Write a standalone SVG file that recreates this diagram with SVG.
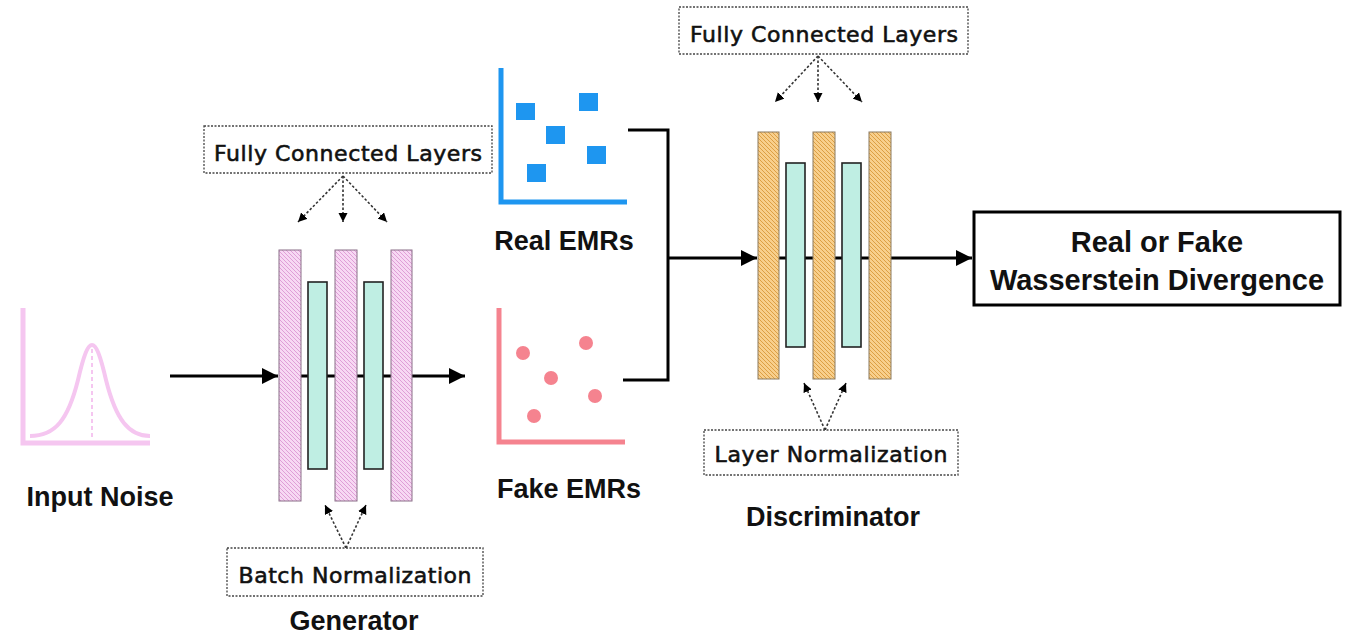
<svg xmlns="http://www.w3.org/2000/svg" width="1351" height="636" viewBox="0 0 1351 636">
<style>
.lbl{font-family:"DejaVu Sans",sans-serif;font-size:22px;fill:#111;stroke:#111;stroke-width:0.6;text-anchor:middle}
.big{font-family:"Liberation Sans",Arial,sans-serif;font-size:27px;font-weight:bold;fill:#111;text-anchor:middle}
.res{font-family:"Liberation Sans",Arial,sans-serif;font-size:29px;font-weight:bold;fill:#111;text-anchor:middle}
.dbox{fill:#fff;stroke:#444;stroke-width:1.3;stroke-dasharray:2,1.5}
.dot{fill:none;stroke:#333;stroke-width:1.6;stroke-dasharray:2.5,2}
.main{fill:none;stroke:#000;stroke-width:3}
.pbar{fill:url(#hpink);stroke:#8a6f88;stroke-width:1}
.obar{fill:url(#horange);stroke:#8a7a60;stroke-width:1}
.tbar{fill:#bfeee3;stroke:#222;stroke-width:1.6}
</style>
<defs>
<pattern id="hpink" patternUnits="userSpaceOnUse" width="4" height="4">
<rect width="4" height="4" fill="#f7d8f3"/>
<path d="M-1,-1 L5,5 M-1,3 L1,5 M3,-1 L5,1" stroke="#dc98d4" stroke-width="0.9"/>
</pattern>
<pattern id="horange" patternUnits="userSpaceOnUse" width="4" height="4">
<rect width="4" height="4" fill="#f8cf8c"/>
<path d="M-1,-1 L5,5 M-1,3 L1,5 M3,-1 L5,1" stroke="#d99a3c" stroke-width="0.9"/>
</pattern>
<marker id="ah" markerUnits="userSpaceOnUse" markerWidth="17" markerHeight="17" refX="16" refY="8" orient="auto">
<path d="M0,0 L16,8 L0,16 z" fill="#000"/>
</marker>
<marker id="sh" markerUnits="userSpaceOnUse" markerWidth="10" markerHeight="10" refX="9" refY="4.5" orient="auto">
<path d="M0,0 L9,4.5 L0,9 z" fill="#000"/>
</marker>
</defs>

<g id="connectors">
<line class="main" x1="170" y1="376" x2="278" y2="376" marker-end="url(#ah)"/>
<line class="main" x1="279" y1="376" x2="412" y2="376"/>
<line class="main" x1="412" y1="376" x2="465" y2="376" marker-end="url(#ah)"/>
<polyline class="main" points="628,130 668,130 668,380 623,380"/>
<line class="main" x1="668" y1="258" x2="757" y2="258" marker-end="url(#ah)"/>
<line class="main" x1="758" y1="258" x2="891" y2="258"/>
<line class="main" x1="891" y1="258" x2="972" y2="258" marker-end="url(#ah)"/>
<line class="dot" x1="343" y1="176" x2="298" y2="222" marker-end="url(#sh)"/>
<line class="dot" x1="343" y1="176" x2="343" y2="222" marker-end="url(#sh)"/>
<line class="dot" x1="343" y1="176" x2="387" y2="222" marker-end="url(#sh)"/>
<line class="dot" x1="346" y1="548" x2="325" y2="505" marker-end="url(#sh)"/>
<line class="dot" x1="346" y1="548" x2="366" y2="505" marker-end="url(#sh)"/>
<line class="dot" x1="818" y1="56" x2="775" y2="102" marker-end="url(#sh)"/>
<line class="dot" x1="818" y1="56" x2="818" y2="102" marker-end="url(#sh)"/>
<line class="dot" x1="818" y1="56" x2="862" y2="102" marker-end="url(#sh)"/>
<line class="dot" x1="825" y1="430" x2="804" y2="383" marker-end="url(#sh)"/>
<line class="dot" x1="825" y1="430" x2="846" y2="383" marker-end="url(#sh)"/>
</g>

<g id="input-noise">
<path d="M23,308 L23,443 L150,443" fill="none" stroke="#f5c6f0" stroke-width="5"/>
<path d="M30,436 C55,436 68,420 78,380 C84,354 88,345 92,345 C96,345 100,354 106,380 C116,420 129,436 150,436" fill="none" stroke="#f5c6f0" stroke-width="4"/>
<line x1="92" y1="349" x2="92" y2="440" stroke="#f5c6f0" stroke-width="2" stroke-dasharray="4,3"/>
<text class="big" x="100" y="506">Input Noise</text>
</g>

<g id="generator">
<rect class="pbar" x="279" y="250" width="22" height="251"/>
<rect class="pbar" x="335" y="250" width="22" height="251"/>
<rect class="pbar" x="391" y="250" width="21" height="251"/>
<rect class="tbar" x="308" y="282" width="19" height="187"/>
<rect class="tbar" x="364" y="282" width="19" height="187"/>
<text class="big" x="354" y="630">Generator</text>
</g>

<g id="gen-fc-label">
<rect class="dbox" x="204" y="126" width="288" height="47"/>
<text class="lbl" x="348" y="161" textLength="268" lengthAdjust="spacing">Fully Connected Layers</text>
</g>

<g id="gen-bn-label">
<rect class="dbox" x="227" y="548" width="256" height="48"/>
<text class="lbl" x="355" y="583" textLength="233" lengthAdjust="spacing">Batch Normalization</text>
</g>

<g id="real-emrs">
<path d="M501,68 L501,202 L627,202" fill="none" stroke="#1e96f0" stroke-width="5"/>
<rect x="516" y="103" width="19" height="17" fill="#1e96f0"/>
<rect x="579" y="93" width="19" height="18" fill="#1e96f0"/>
<rect x="546" y="126" width="19" height="18" fill="#1e96f0"/>
<rect x="587" y="146" width="19" height="18" fill="#1e96f0"/>
<rect x="527" y="164" width="19" height="18" fill="#1e96f0"/>
<text class="big" x="564" y="250">Real EMRs</text>
</g>

<g id="fake-emrs">
<path d="M499,308 L499,442 L625,442" fill="none" stroke="#f5838f" stroke-width="5"/>
<circle cx="523" cy="353" r="7" fill="#f5838f"/>
<circle cx="586" cy="343" r="7" fill="#f5838f"/>
<circle cx="551" cy="378" r="7" fill="#f5838f"/>
<circle cx="595" cy="396" r="7" fill="#f5838f"/>
<circle cx="534" cy="416" r="7" fill="#f5838f"/>
<text class="big" x="569" y="498">Fake EMRs</text>
</g>

<g id="discriminator">
<rect class="obar" x="758" y="132" width="21" height="247"/>
<rect class="obar" x="813" y="132" width="22" height="247"/>
<rect class="obar" x="869" y="132" width="22" height="247"/>
<rect class="tbar" x="786" y="163" width="19" height="184"/>
<rect class="tbar" x="842" y="163" width="19" height="184"/>
<text class="big" x="833" y="526">Discriminator</text>
</g>

<g id="disc-fc-label">
<rect class="dbox" x="679" y="7" width="289" height="47"/>
<text class="lbl" x="824" y="42" textLength="268" lengthAdjust="spacing">Fully Connected Layers</text>
</g>

<g id="disc-ln-label">
<rect class="dbox" x="704" y="430" width="254" height="45"/>
<text class="lbl" x="831" y="462" textLength="233" lengthAdjust="spacing">Layer Normalization</text>
</g>

<g id="output">
<rect x="974" y="212" width="366" height="93" fill="#fff" stroke="#000" stroke-width="3"/>
<text class="res" x="1157" y="252">Real or Fake</text>
<text class="res" x="1157" y="290">Wasserstein Divergence</text>
</g>
</svg>
